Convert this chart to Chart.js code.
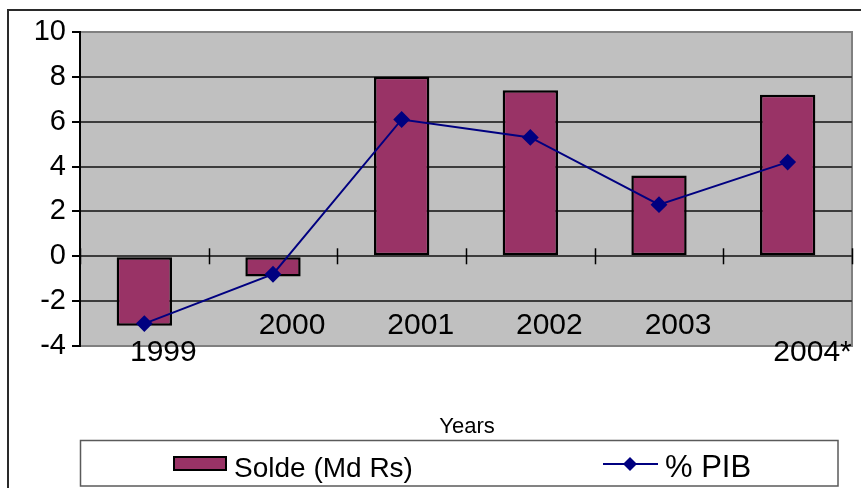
<!DOCTYPE html>
<html>
<head>
<meta charset="utf-8">
<script src="https://cdn.jsdelivr.net/npm/chart.js@4/dist/chart.umd.min.js"></script>
<style>
html,body{margin:0;padding:0;background:#fff;}
canvas{display:block;}
</style>
</head>
<body>
<canvas id="c" width="861" height="488"></canvas>
<script>
const categories = ['1999', '2000', '2001', '2002', '2003', '2004*'];
const soldeValues = [-3.1, -0.9, 8.0, 7.4, 3.6, 7.2];
const pibValues = [-3.0, -0.8, 6.1, 5.3, 2.3, 4.2];
const yTicks = [-4, -2, 0, 2, 4, 6, 8, 10];
const seriesNames = ['Solde (Md Rs)', '% PIB'];
const axisTitle = 'Years';

const FONT = "'Liberation Sans', Arial, sans-serif";
const BAR_COLOR = '#993366';
const LINE_COLOR = '#000080';

const decor = {
  id: 'decor',
  beforeDraw(chart) {
    const ctx = chart.ctx, a = chart.chartArea;
    ctx.save();
    ctx.strokeStyle = '#2a2a2a';
    ctx.lineWidth = 2;
    ctx.strokeRect(8, 10, 900, 520);
    ctx.fillStyle = '#C0C0C0';
    ctx.fillRect(a.left, a.top, a.right - a.left, a.bottom - a.top);
    ctx.strokeStyle = '#808080';
    ctx.lineWidth = 2;
    ctx.strokeRect(a.left, a.top, a.right - a.left, a.bottom - a.top);
    ctx.restore();
  },
  beforeDatasetsDraw(chart) {
    const ctx = chart.ctx, a = chart.chartArea;
    const y0 = chart.scales.y.getPixelForValue(0);
    const n = categories.length;
    const cw = (a.right - a.left) / n;
    ctx.save();
    ctx.strokeStyle = '#000';
    ctx.lineWidth = 1.5;
    for (let i = 0; i <= n; i++) {
      const x = Math.round(a.left + i * cw) + 0.5;
      ctx.beginPath();
      ctx.moveTo(x, y0 - 8);
      ctx.lineTo(x, y0 + 8);
      ctx.stroke();
    }
    ctx.restore();
  },
  afterDraw(chart) {
    const ctx = chart.ctx, a = chart.chartArea;
    const xs = chart.scales.x;
    const n = categories.length;
    const cw = (a.right - a.left) / n;
    ctx.save();
    ctx.fillStyle = '#000';
    ctx.font = '30px ' + FONT;
    ctx.textAlign = 'left';
    ctx.textBaseline = 'alphabetic';
    const low = new Set([0, n - 1]);
    categories.forEach((c, i) => {
      const left = xs.getPixelForValue(i) - cw / 2;
      ctx.fillText(c, left + 50, low.has(i) ? 361 : 334);
    });
    ctx.font = '22px ' + FONT;
    ctx.textAlign = 'center';
    ctx.fillText(axisTitle, (a.left + a.right) / 2 + 1, 433);
    ctx.strokeStyle = '#5a5a5a';
    ctx.lineWidth = 1.5;
    ctx.strokeRect(80.5, 440.5, 757.5, 45.5);
    ctx.fillStyle = BAR_COLOR;
    ctx.fillRect(173, 456, 54, 15);
    ctx.strokeStyle = '#000';
    ctx.lineWidth = 2;
    ctx.strokeRect(174, 457, 52, 13);
    ctx.fillStyle = '#000';
    ctx.textAlign = 'left';
    ctx.font = '28px ' + FONT;
    ctx.fillText(seriesNames[0], 234, 477);
    ctx.strokeStyle = LINE_COLOR;
    ctx.lineWidth = 2;
    ctx.beginPath();
    ctx.moveTo(603, 464);
    ctx.lineTo(658, 464);
    ctx.stroke();
    ctx.fillStyle = LINE_COLOR;
    ctx.beginPath();
    ctx.moveTo(630, 457);
    ctx.lineTo(637, 464);
    ctx.lineTo(630, 471);
    ctx.lineTo(623, 464);
    ctx.closePath();
    ctx.fill();
    ctx.fillStyle = '#000';
    ctx.font = '31px ' + FONT;
    ctx.fillText(seriesNames[1], 665, 477);
    ctx.restore();
  }
};

new Chart(document.getElementById('c'), {
  data: {
    labels: categories,
    datasets: [
      {
        type: 'line',
        label: seriesNames[1],
        data: pibValues,
        borderColor: LINE_COLOR,
        backgroundColor: LINE_COLOR,
        borderWidth: 2,
        pointStyle: 'rectRot',
        pointRadius: 7,
        pointBackgroundColor: LINE_COLOR,
        pointBorderColor: LINE_COLOR,
        tension: 0,
        order: 0
      },
      {
        type: 'bar',
        label: seriesNames[0],
        data: soldeValues,
        backgroundColor: BAR_COLOR,
        borderColor: '#000',
        borderWidth: 2.5,
        borderSkipped: false,
        barPercentage: 0.43,
        categoryPercentage: 1,
        order: 1
      }
    ]
  },
  options: {
    responsive: false,
    animation: false,
    devicePixelRatio: 1,
    layout: { padding: { left: 0, right: 4, top: 32, bottom: 142 } },
    plugins: { legend: { display: false }, tooltip: { enabled: false } },
    scales: {
      x: { type: 'category', offset: true, display: false },
      y: {
        min: yTicks[0],
        max: yTicks[yTicks.length - 1],
        afterFit(scale) { scale.width = 80; },
        afterBuildTicks(scale) { scale.ticks = yTicks.map(v => ({ value: v })); },
        ticks: {
          color: '#000',
          font: { family: FONT, size: 29 },
          padding: 6
        },
        grid: {
          color: ctx => (ctx.tick && (ctx.tick.value === yTicks[0] || ctx.tick.value === yTicks[yTicks.length - 1])) ? '#808080' : '#3c3c3c',
          lineWidth: 2,
          tickColor: '#000',
          tickLength: 8
        },
        border: { color: '#000', width: 2 }
      }
    }
  },
  plugins: [decor]
});
</script>
</body>
</html>
